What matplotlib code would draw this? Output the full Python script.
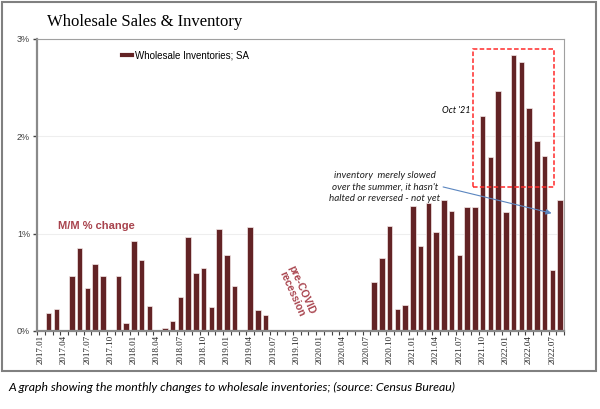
import matplotlib
matplotlib.use("Agg")
import matplotlib.pyplot as plt
from matplotlib.patches import Rectangle
from matplotlib.lines import Line2D
import numpy as np

# ---- data (monthly % change, 2017.01 .. 2022.08) ----
vals_2017 = [0, 0.19, 0.23, 0, 0.57, 0.85, 0.44, 0.69, 0.57, 0, 0.57, 0.08]
vals_2018 = [0.92, 0.73, 0.26, 0, 0.03, 0.10, 0.35, 0.97, 0.60, 0.65, 0.25, 1.05]
vals_2019 = [0.78, 0.46, 0, 1.07, 0.22, 0.16, 0, 0, 0, 0, 0, 0]
vals_2020 = [0, 0, 0, 0, 0, 0, 0, 0.50, 0.75, 1.08, 0.23, 0.27]
vals_2021 = [1.28, 0.87, 1.31, 1.02, 1.35, 1.23, 0.78, 1.27, 1.27, 2.21, 1.79, 2.47]
vals_2022 = [1.22, 2.84, 2.76, 2.29, 1.95, 1.80, 0.63, 1.35]
values = vals_2017 + vals_2018 + vals_2019 + vals_2020 + vals_2021 + vals_2022

tick_labels = ["2017.01", "2017.04", "2017.07", "2017.10",
               "2018.01", "2018.04", "2018.07", "2018.10",
               "2019.01", "2019.04", "2019.07", "2019.10",
               "2020.01", "2020.04", "2020.07", "2020.10",
               "2021.01", "2021.04", "2021.07", "2021.10",
               "2022.01", "2022.04", "2022.07"]
y_ticks = [0, 1, 2, 3]
y_labels = ["0%", "1%", "2%", "3%"]

bar_color = "#632325"

fig = plt.figure(figsize=(6.0, 4.09), dpi=100)
ax = fig.add_axes([37/600, 1-331/409, (564-37)/600, (331-39)/409])

x = np.arange(len(values))
ax.bar(x, values, width=0.74, color=bar_color, edgecolor="#f4e8e8",
       linewidth=0.5, zorder=2)

ax.set_xlim(-0.5, len(values) - 0.5)
ax.set_ylim(0, 3)

# y axis
ax.set_yticks(y_ticks)
ax.set_yticklabels(y_labels, fontsize=6.5, family="Liberation Sans", color="#404040")
ax.tick_params(axis="y", length=3, width=1, color="#404040", pad=2)
ax.grid(axis="y", color="#eeeeee", linewidth=0.8, zorder=0)

# x axis
ax.set_xticks(np.arange(0, len(values), 3))
ax.set_xticklabels(tick_labels, rotation=90, fontsize=6.5, family="Liberation Serif",
                   color="#202020")
ax.tick_params(axis="x", length=0, pad=3)
ax.set_xticks(np.arange(-0.5, len(values), 1), minor=True)
ax.tick_params(axis="x", which="minor", length=3, width=0.8, color="#404040")

for s in ["left", "bottom"]:
    ax.spines[s].set_color("#8a8a8a")
    ax.spines[s].set_linewidth(1.6)
for s in ["top", "right"]:
    ax.spines[s].set_color("#a0a0a0")
    ax.spines[s].set_linewidth(0.8)

# legend
h = Line2D([0], [0], color=bar_color, lw=3)
leg = ax.legend([h], ["Wholesale Inventories; SA"], loc="upper left",
                bbox_to_anchor=(0.145, 0.99), frameon=False,
                handlelength=1.0, handletextpad=0.3,
                prop={"family": "Liberation Sans", "size": 7})

# annotations
ax.text(2.2, 1.08, "M/M % change", fontsize=8, fontweight="bold",
        color="#a8434d", family="Liberation Sans", va="center", ha="left")
ax.text(33.0, 0.40, "pre-COVID\nrecession", fontsize=7.5, fontweight="bold",
        color="#a8434d", family="Liberation Sans", rotation=-66,
        ha="center", va="center", linespacing=1.0)

ax.add_patch(Rectangle((55.7, 1.48), 10.5, 1.415, fill=False,
                       edgecolor="#ff2a2a", linewidth=1.1,
                       linestyle=(0, (3, 1.5)), zorder=3))
ax.text(55.4, 2.27, "Oct '21", fontsize=6.5, style="italic", family="Lato",
        ha="right", va="center")

ax.text(44.4, 1.48, "inventory  merely slowed\nover the summer, it hasn't\nhalted or reversed - not yet",
        fontsize=7.1, style="italic", family="Lato", ha="center", va="center",
        linespacing=1.3, color="#202020")
ax.annotate("", xy=(65.9, 1.21), xytext=(51.9, 1.48),
            arrowprops=dict(arrowstyle="-|>", color="#5b86c0", lw=0.8,
                            mutation_scale=8, shrinkA=0, shrinkB=0))

# title
fig.text(47/600, 1-22/409, "Wholesale Sales & Inventory", fontsize=12,
         family="Liberation Serif", ha="left", va="center")

# outer frame
fig.add_artist(Rectangle((2/600, 1-371/409), 594/600, 369/409, fill=False,
                         edgecolor="#808080", linewidth=1.5,
                         transform=fig.transFigure))

# caption
fig.text(8/600, 1-387/409,
         "A graph showing the monthly changes to wholesale inventories; (source: Census Bureau)",
         fontsize=8.8, style="italic", family="Lato", ha="left", va="center")

fig.savefig("out.png", dpi=100)
